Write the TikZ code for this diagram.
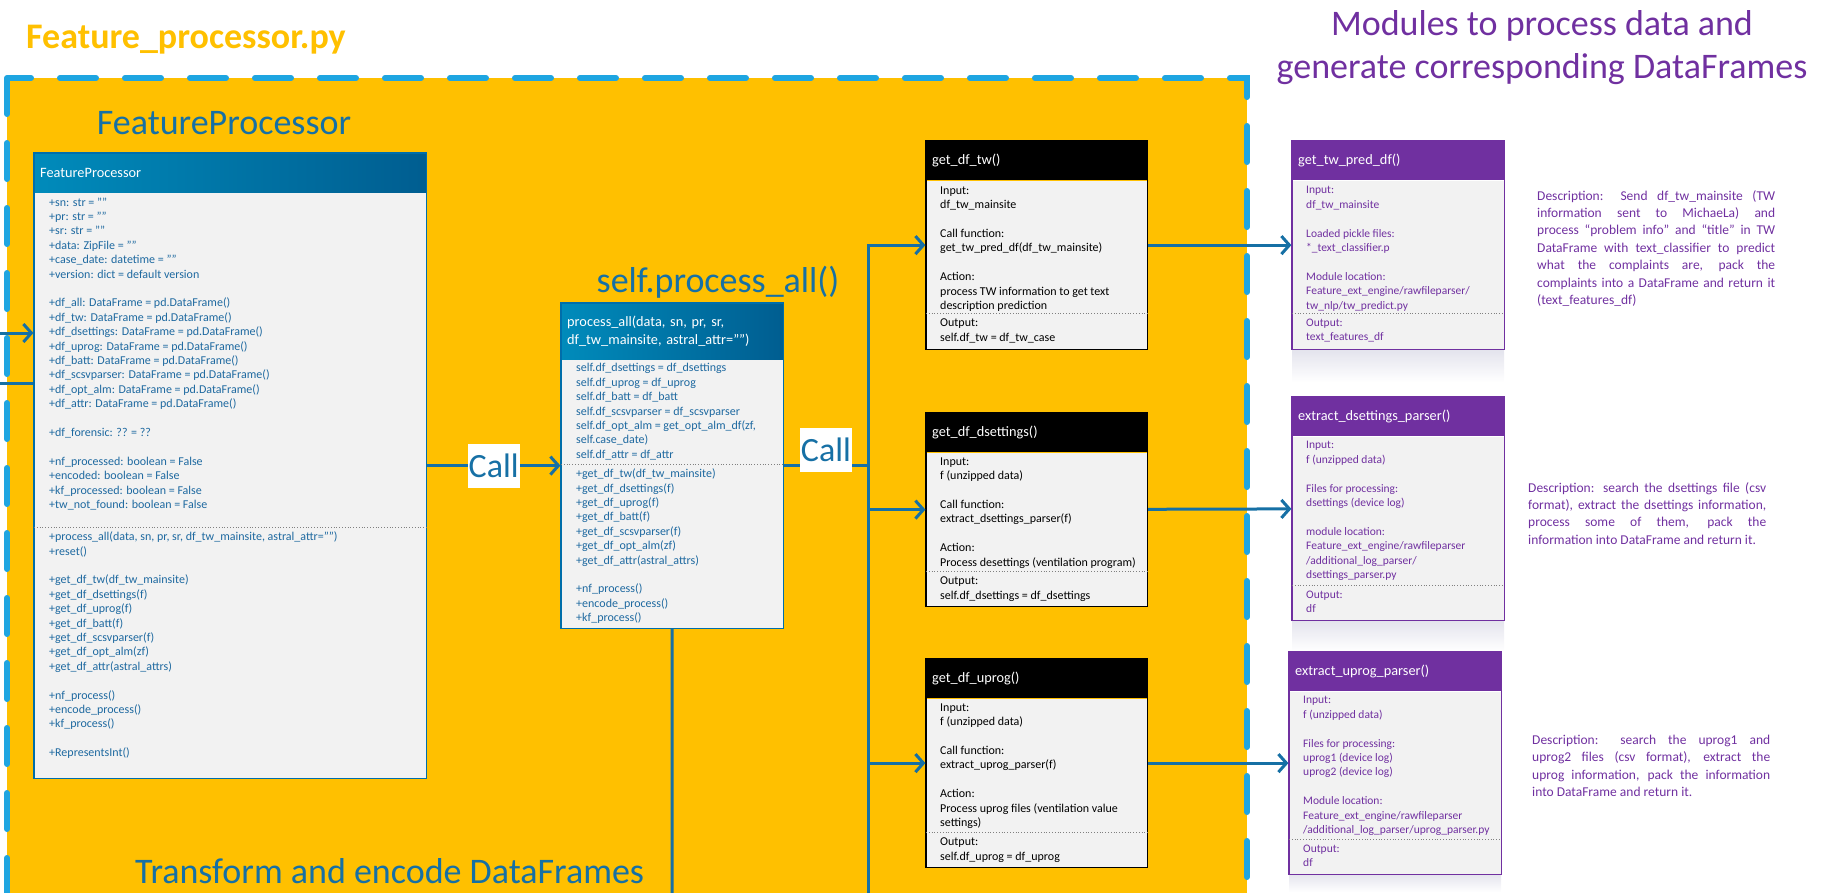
\documentclass[tikz,border=0pt]{standalone}
\usepackage{fontspec}
\setmainfont{Carlito}
\usetikzlibrary{arrows.meta,positioning,fit}
\definecolor{gold}{HTML}{FFC000}
\definecolor{dashblue}{RGB}{30,165,225}
\definecolor{linkblue}{RGB}{22,112,165}
\definecolor{clsblue}{RGB}{0,110,170}
\definecolor{clstext}{RGB}{30,105,160}
\definecolor{modpurple}{HTML}{7030A0}
\definecolor{bodygray}{HTML}{F2F2F2}
\definecolor{mirror}{RGB}{226,226,236}
\newcommand{\jline}[1]{\makebox[238pt][s]{#1}}

\begin{document}
\begin{tikzpicture}[x=1pt,y=-1pt,>={Straight Barb[length=8pt,width=18pt]},
  conn/.style={draw=linkblue,line width=3pt},
  big/.style={text=linkblue,font=\fontsize{36}{42}\selectfont,inner sep=0pt},
  head/.style={anchor=north west,text=white,align=left,inner xsep=6pt,inner ysep=0pt,minimum height=39pt,font=\fontsize{14.3}{18}\selectfont},
  clshead/.style={head,left color=clsblue!80!cyan,right color=clsblue!85!black},
  part/.style={fill=bodygray,inner sep=0pt},
  txt/.style={inner sep=0pt,align=left,font=\fontsize{12}{14.4}\selectfont},
  modtxt/.style={txt,text=modpurple,font=\fontsize{11.5}{14.4}\selectfont},
  sep/.style={draw=gray,dotted,line width=0.8pt},
  desc/.style={anchor=north west,text=modpurple,align=left,inner sep=0pt,font=\fontsize{13.5}{17.4}\selectfont},
  callbox/.style={fill=white,text=linkblue,font=\fontsize{34}{38}\selectfont,inner xsep=1pt,inner ysep=0pt,minimum height=44pt}]
  \path[use as bounding box] (0,0) rectangle (1826,892);
  \clip (0,0) rectangle (1826,892);

  \draw[fill=gold,draw=dashblue,line width=6pt,dash pattern=on 36pt off 29pt,line cap=round] (7,78) rectangle (1247,930);
  \node[anchor=base west,text=gold,font=\bfseries\fontsize{36}{42}\selectfont,inner sep=0pt] (fileT) at (26,48) {Feature\_processor.py};
  \node[anchor=north,text=modpurple,align=center,font=\fontsize{36}{43}\selectfont,inner sep=0pt] (modT) at (1542,10) {Modules to process data and\\generate corresponding DataFrames};

  \node[big] (fpT) at (224,123) {FeatureProcessor};
  \node[big,anchor=base] (paT) at (718,292) {self.process\_all()};
  \node[big,anchor=base west] (encT) at (135,883) {Transform and encode DataFrames};

  % FeatureProcessor class
  \node[clshead,text width=380pt] (fpH) at (34,153) {FeatureProcessor};
  \node[part,minimum width=392pt,minimum height=335pt,below=0pt of fpH] (fpA) {};
  \node[part,minimum width=392pt,minimum height=250pt,below=0pt of fpA] (fpM) {};
  \node[fit=(fpH)(fpM),draw=clsblue,line width=1.2pt,inner sep=0pt] (fpF) {};
  \draw[sep] (fpA.south west) -- (fpA.south east);
  \node[txt,text=clstext,below right=5pt and 15pt of fpA.north west] (fpAt) {+sn: str = ""\\+pr: str = ""\\+sr: str = ""\\+data: ZipFile = ""\\+case\_date: datetime = ""\\+version: dict = default version\\[14.4pt]+df\_all: DataFrame = pd.DataFrame()\\+df\_tw: DataFrame = pd.DataFrame()\\+df\_dsettings: DataFrame = pd.DataFrame()\\+df\_uprog: DataFrame = pd.DataFrame()\\+df\_batt: DataFrame = pd.DataFrame()\\+df\_scsvparser: DataFrame = pd.DataFrame()\\+df\_opt\_alm: DataFrame = pd.DataFrame()\\+df\_attr: DataFrame = pd.DataFrame()\\[14.4pt]+df\_forensic: ?? = ??\\[14.4pt]+nf\_processed: boolean = False\\+encoded: boolean = False\\+kf\_processed: boolean = False\\+tw\_not\_found: boolean = False};
  \node[txt,text=clstext,below right=4pt and 15pt of fpM.north west] (fpMt) {+process\_all(data, sn, pr, sr, df\_tw\_mainsite, astral\_attr="")\\+reset()\\[14.4pt]+get\_df\_tw(df\_tw\_mainsite)\\+get\_df\_dsettings(f)\\+get\_df\_uprog(f)\\+get\_df\_batt(f)\\+get\_df\_scsvparser(f)\\+get\_df\_opt\_alm(zf)\\+get\_df\_attr(astral\_attrs)\\[14.4pt]+nf\_process()\\+encode\_process()\\+kf\_process()\\[14.4pt]+RepresentsInt()};

  % process_all
  \node[clshead,text width=210pt,minimum height=56pt] (paH) at (561,303) {process\_all(data, sn, pr, sr,\\df\_tw\_mainsite, astral\_attr="")};
  \node[part,minimum width=222pt,minimum height=105pt,below=0pt of paH] (paA) {};
  \node[part,minimum width=222pt,minimum height=163pt,below=0pt of paA] (paM) {};
  \node[fit=(paH)(paM),draw=clsblue,line width=1.2pt,inner sep=0pt] (paF) {};
  \draw[sep] (paA.south west) -- (paA.south east);
  \node[txt,text=clstext,below right=4pt and 15pt of paA.north west] (paAt) {self.df\_dsettings = df\_dsettings\\self.df\_uprog = df\_uprog\\self.df\_batt = df\_batt\\self.df\_scsvparser = df\_scsvparser\\self.df\_opt\_alm = get\_opt\_alm\_df(zf,\\self.case\_date)\\self.df\_attr = df\_attr};
  \node[txt,text=clstext,below right=4pt and 15pt of paM.north west] (paMt) {+get\_df\_tw(df\_tw\_mainsite)\\+get\_df\_dsettings(f)\\+get\_df\_uprog(f)\\+get\_df\_batt(f)\\+get\_df\_scsvparser(f)\\+get\_df\_opt\_alm(zf)\\+get\_df\_attr(astral\_attrs)\\[14.4pt]+nf\_process()\\+encode\_process()\\+kf\_process()};

  % get_df functions
  \node[head,fill=black,text width=209pt] (twH) at (926,141) {get\_df\_tw()};
  \node[part,minimum width=221pt,minimum height=133pt,below=0pt of twH] (twA) {};
  \node[part,minimum width=221pt,minimum height=35pt,below=0pt of twA] (twM) {};
  \node[fit=(twH)(twM),draw=black,line width=1.2pt,inner sep=0pt] (twF) {};
  \draw[sep] (twA.south west) -- (twA.south east);
  \node[txt,below right=6pt and 14pt of twA.north west] (twAt) {Input:\\df\_tw\_mainsite\\[14.4pt]Call function:\\get\_tw\_pred\_df(df\_tw\_mainsite)\\[14.4pt]Action:\\process TW information to get text\\description prediction};
  \node[txt,below right=5pt and 14pt of twM.north west] (twMt) {Output:\\self.df\_tw = df\_tw\_case};

  \node[head,fill=black,text width=209pt] (dsH) at (926,413) {get\_df\_dsettings()};
  \node[part,minimum width=221pt,minimum height=119pt,below=0pt of dsH] (dsA) {};
  \node[part,minimum width=221pt,minimum height=34pt,below=0pt of dsA] (dsM) {};
  \node[fit=(dsH)(dsM),draw=black,line width=1.2pt,inner sep=0pt] (dsF) {};
  \draw[sep] (dsA.south west) -- (dsA.south east);
  \node[txt,below right=5pt and 14pt of dsA.north west] (dsAt) {Input:\\f (unzipped data)\\[14.4pt]Call function:\\extract\_dsettings\_parser(f)\\[14.4pt]Action:\\Process desettings (ventilation program)};
  \node[txt,below right=5pt and 14pt of dsM.north west] (dsMt) {Output:\\self.df\_dsettings = df\_dsettings};

  \node[head,fill=black,text width=209pt] (upH) at (926,659) {get\_df\_uprog()};
  \node[part,minimum width=221pt,minimum height=134pt,below=0pt of upH] (upA) {};
  \node[part,minimum width=221pt,minimum height=34pt,below=0pt of upA] (upM) {};
  \node[fit=(upH)(upM),draw=black,line width=1.2pt,inner sep=0pt] (upF) {};
  \draw[sep] (upA.south west) -- (upA.south east);
  \node[txt,below right=5pt and 14pt of upA.north west] (upAt) {Input:\\f (unzipped data)\\[14.4pt]Call function:\\extract\_uprog\_parser(f)\\[14.4pt]Action:\\Process uprog files (ventilation value\\settings)};
  \node[txt,below right=5pt and 14pt of upM.north west] (upMt) {Output:\\self.df\_uprog = df\_uprog};

  % modules
  \fill[top color=mirror,bottom color=white] (1292,348) rectangle (1504,382);
  \fill[top color=mirror,bottom color=white] (1292,619) rectangle (1504,651);
  \fill[top color=mirror,bottom color=white] (1289,873) rectangle (1501,892);

  \node[head,fill=modpurple,text width=200pt] (tpH) at (1292,141) {get\_tw\_pred\_df()};
  \node[part,minimum width=212pt,minimum height=133pt,below=0pt of tpH] (tpA) {};
  \node[part,minimum width=212pt,minimum height=35pt,below=0pt of tpA] (tpM) {};
  \node[fit=(tpH)(tpM),draw=modpurple,line width=1.2pt,inner sep=0pt] (tpF) {};
  \draw[sep] (tpA.south west) -- (tpA.south east);
  \node[modtxt,below right=6pt and 14pt of tpA.north west] (tpAt) {Input:\\df\_tw\_mainsite\\[14.4pt]Loaded pickle files:\\*\_text\_classifier.p\\[14.4pt]Module location:\\Feature\_ext\_engine/rawfileparser/\\tw\_nlp/tw\_predict.py};
  \node[modtxt,below right=5pt and 14pt of tpM.north west] (tpMt) {Output:\\text\_features\_df};

  \node[head,fill=modpurple,text width=200pt] (edsH) at (1292,397) {extract\_dsettings\_parser()};
  \node[part,minimum width=212pt,minimum height=149pt,below=0pt of edsH] (edsA) {};
  \node[part,minimum width=212pt,minimum height=34pt,below=0pt of edsA] (edsM) {};
  \node[fit=(edsH)(edsM),draw=modpurple,line width=1.2pt,inner sep=0pt] (edsF) {};
  \draw[sep] (edsA.south west) -- (edsA.south east);
  \node[modtxt,below right=5pt and 14pt of edsA.north west] (edsAt) {Input:\\f (unzipped data)\\[14.4pt]Files for processing:\\dsettings (device log)\\[14.4pt]module location:\\Feature\_ext\_engine/rawfileparser\\/additional\_log\_parser/\\dsettings\_parser.py};
  \node[modtxt,below right=5pt and 14pt of edsM.north west] (edsMt) {Output:\\df};

  \node[head,fill=modpurple,text width=200pt] (eupH) at (1289,652) {extract\_uprog\_parser()};
  \node[part,minimum width=212pt,minimum height=148pt,below=0pt of eupH] (eupA) {};
  \node[part,minimum width=212pt,minimum height=34pt,below=0pt of eupA] (eupM) {};
  \node[fit=(eupH)(eupM),draw=modpurple,line width=1.2pt,inner sep=0pt] (eupF) {};
  \draw[sep] (eupA.south west) -- (eupA.south east);
  \node[modtxt,below right=5pt and 14pt of eupA.north west] (eupAt) {Input:\\f (unzipped data)\\[14.4pt]Files for processing:\\uprog1 (device log)\\uprog2 (device log)\\[14.4pt]Module location:\\Feature\_ext\_engine/rawfileparser\\/additional\_log\_parser/uprog\_parser.py};
  \node[modtxt,below right=5pt and 14pt of eupM.north west] (eupMt) {Output:\\df};

  \node[desc] (tpD) at (1537,190) {\jline{Description: Send df\_tw\_mainsite (TW}\\\jline{information sent to MichaeLa) and}\\\jline{process “problem info” and “title” in TW}\\\jline{DataFrame with text\_classifier to predict}\\\jline{what the complaints are, pack the}\\\jline{complaints into a DataFrame and return it}\\(text\_features\_df)};
  \node[desc] (edsD) at (1528,482) {\jline{Description: search the dsettings file (csv}\\\jline{format), extract the dsettings information,}\\\jline{process some of them, pack the}\\information into DataFrame and return it.};
  \node[desc] (eupD) at (1532,735) {\jline{Description: search the uprog1 and}\\\jline{uprog2 files (csv format), extract the}\\\jline{uprog information, pack the information}\\into DataFrame and return it.};

  % connectors
  \coordinate (inA) at (0,333);
  \coordinate (inB) at (0,383);
  \coordinate (busEnd) at (868,900);
  \coordinate (paEnd) at (672,900);
  \draw[conn,->] (inA) -- (inA -| fpF.west);
  \draw[conn] (inB) -- (inB -| fpF.west);
  \path[conn,->] (fpF) edge node[callbox] {Call} (paF);
  \path[conn] (paF) edge node[callbox,yshift=16pt] {Call} (paF -| busEnd);
  \draw[conn] (paF) -- (paEnd);
  \draw[conn,->] (busEnd) |- (twF);
  \draw[conn,->] (busEnd |- dsF) -- (dsF);
  \draw[conn,->] (busEnd |- upF) -- (upF);
  \path[conn,->] (twF) edge (tpF)
                 (dsF) edge (edsF)
                 (upF) edge (eupF);
\end{tikzpicture}
\end{document}
